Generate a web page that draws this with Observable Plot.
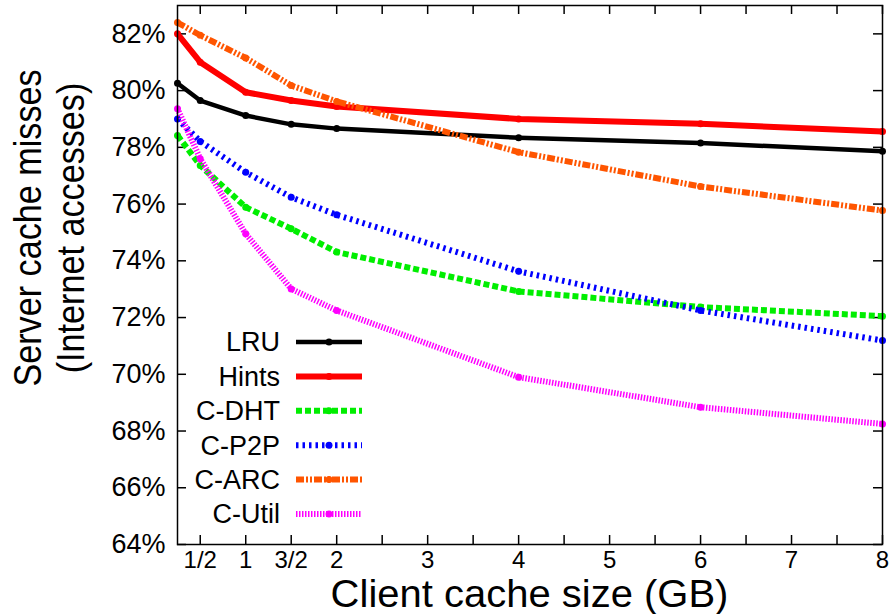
<!DOCTYPE html>
<html><head><meta charset="utf-8">
<script src="https://cdn.jsdelivr.net/npm/d3@7"></script>
<script src="https://cdn.jsdelivr.net/npm/@observablehq/plot@0.6"></script>
<style>html,body{margin:0;padding:0;background:#fff} svg{display:block}</style>
</head><body><div id="chart"></div>
<script>
// ---- data ----
const sizes = [0.25, 0.5, 1, 1.5, 2, 4, 6, 8];
const lru   = [80.26, 79.65, 79.12, 78.81, 78.66, 78.34, 78.15, 77.86];
const hints = [82.00, 81.00, 79.94, 79.65, 79.44, 79.00, 78.83, 78.56];
const cdht  = [78.42, 77.36, 75.89, 75.13, 74.31, 72.92, 72.37, 72.05];
const cp2p  = [79.00, 78.21, 77.12, 76.24, 75.62, 73.63, 72.25, 71.19];
const carc  = [82.40, 81.95, 81.15, 80.18, 79.62, 77.83, 76.62, 75.77];
const cutil = [79.36, 77.60, 74.95, 73.01, 72.25, 69.90, 68.84, 68.25];
const seriesNames = ["LRU", "Hints", "C-DHT", "C-P2P", "C-ARC", "C-Util"];
const seriesValues = [lru, hints, cdht, cp2p, carc, cutil];
const xTickValues = [0.5, 1, 1.5, 2, 3, 4, 5, 6, 7, 8];
const xTickLabels = ["1/2", "1", "3/2", "2", "3", "4", "5", "6", "7", "8"];
const xMinorTicks = [0.5, 1, 1.5, 2, 2.5, 3, 3.5, 4, 4.5, 5, 5.5, 6, 6.5, 7, 7.5, 8];
const yTickValues = [64, 66, 68, 70, 72, 74, 76, 78, 80, 82];

// ---- styles ----
const styles = {
  "LRU":    {stroke: "#000000", width: 4.5, dash: null},
  "Hints":  {stroke: "#ff0000", width: 6,   dash: null},
  "C-DHT":  {stroke: "#00ee00", width: 6,   dash: "6,3"},
  "C-P2P":  {stroke: "#0000ff", width: 6,   dash: "2.5,4"},
  "C-ARC":  {stroke: "#ff5500", width: 6,   dash: "8,2,2,2,2,2"},
  "C-Util": {stroke: "#ff00ff", width: 6,   dash: "1.5,1.5"}
};

const W = 892, H = 614;
const mL = 177, mR = 10, mT = 5, mB = 70;
const innerW = W - mL - mR, innerH = H - mT - mB;
const font = "'Liberation Sans', Arial, Helvetica, sans-serif";

const rows = [];
seriesNames.forEach((name, k) => sizes.forEach((x, i) => rows.push({series: name, x, y: seriesValues[k][i]})));

const marks = [];
seriesNames.forEach(name => {
  const s = styles[name];
  const d = rows.filter(r => r.series === name);
  marks.push(Plot.line(d, {x: "x", y: "y", stroke: s.stroke, strokeWidth: s.width,
    strokeDasharray: s.dash || undefined, strokeLinecap: "butt", strokeLinejoin: "round"}));
  marks.push(Plot.dot(d, {x: "x", y: "y", r: 3.5, fill: s.stroke, stroke: "none"}));
});

const chart = Plot.plot({
  width: W, height: H,
  marginLeft: mL, marginRight: mR, marginTop: mT, marginBottom: mB,
  style: {fontFamily: font, background: "#fff", color: "#000"},
  x: {domain: [0.25, 8]},
  y: {domain: [64, 83]},
  marks: [
    // inward ticks on all four sides
    Plot.ruleX(xMinorTicks, {insetTop: innerH - 9, stroke: "#000", strokeWidth: 1.5}),
    Plot.ruleX(xMinorTicks, {insetBottom: innerH - 9, stroke: "#000", strokeWidth: 1.5}),
    Plot.ruleY(yTickValues, {insetRight: innerW - 9, stroke: "#000", strokeWidth: 1.5}),
    Plot.ruleY(yTickValues, {insetLeft: innerW - 9, stroke: "#000", strokeWidth: 1.5}),
    Plot.axisX(xTickValues, {tickSize: 0, tickPadding: 6, fontSize: 24, label: null,
      tickFormat: d => xTickLabels[xTickValues.indexOf(d)]}),
    Plot.axisY(yTickValues, {tickSize: 0, tickPadding: 12, fontSize: 27, label: null,
      tickFormat: d => d + "%"}),
    ...marks,
    Plot.frame({stroke: "#000", strokeWidth: 1.5})
  ]
});

const svg = d3.select(chart);
// axis titles
svg.append("text")
  .attr("transform", `translate(${mL + innerW / 2},607) scale(1.0,0.97)`)
  .attr("text-anchor", "middle").attr("font-size", 40).attr("font-family", font)
  .attr("fill", "#000").text("Client cache size (GB)");
const yt = svg.append("g").attr("font-size", 38).attr("font-family", font).attr("fill", "#000");
yt.append("text").attr("transform", "translate(41,228) rotate(-90) scale(0.9,1)")
  .attr("text-anchor", "middle").text("Server cache misses");
yt.append("text").attr("transform", "translate(84,228) rotate(-90) scale(0.9,1)")
  .attr("text-anchor", "middle").text("(Internet accesses)");

// legend
const lg = svg.append("g").attr("font-family", font).attr("font-size", 27);
seriesNames.forEach((name, i) => {
  const s = styles[name];
  const y = 342 + i * 34.4;
  lg.append("text").attr("x", 280).attr("y", y).attr("dy", "0.35em")
    .attr("text-anchor", "end").attr("fill", "#000").text(name);
  const ln = lg.append("line").attr("x1", 296).attr("x2", 362).attr("y1", y).attr("y2", y)
    .attr("stroke", s.stroke).attr("stroke-width", s.width).attr("stroke-linecap", "butt");
  if (s.dash) ln.attr("stroke-dasharray", s.dash);
  lg.append("circle").attr("cx", 329).attr("cy", y).attr("r", 3.5).attr("fill", s.stroke);
});

document.getElementById("chart").appendChild(chart);
</script>
</body></html>
